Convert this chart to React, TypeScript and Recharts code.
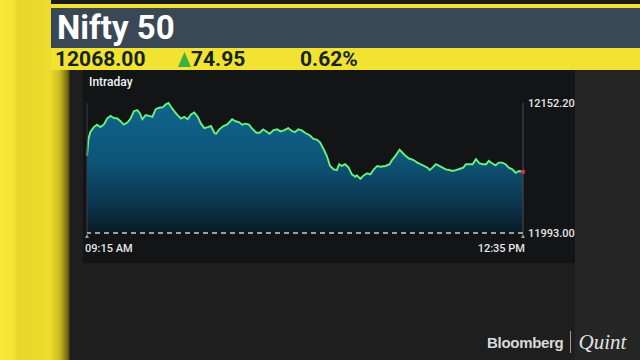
import React from 'react'
import { AreaChart, Area, XAxis, YAxis, ReferenceLine, ReferenceDot } from 'recharts'

// minutes after 09:15 and Nifty 50 level
const minutes = [
  0, 0.7, 1.5, 3.1, 4.6, 6.1, 7.7, 9.2, 10.8, 12.3,
  13.9, 15.4, 16.9, 18.5, 20.0, 21.5, 23.1, 24.3, 25.4, 26.9,
  28.4, 30.0, 31.5, 33.1, 34.9, 36.1, 37.4, 38.5, 40.0, 41.5,
  43.1, 44.6, 46.2, 47.7, 49.2, 50.8, 52.3, 53.8, 55.4, 56.9,
  58.4, 59.2, 60.7, 62.6, 64.2, 65.4, 66.6, 68.1, 69.7, 71.2,
  72.7, 74.3, 75.8, 77.7, 79.2, 80.8, 82.3, 83.8, 85.4, 87.2,
  88.8, 90.3, 92.3, 93.8, 95.4, 96.9, 98.5, 100.0, 102.3, 103.9,
  105.4, 106.9, 108.5, 110.0, 111.5, 113.1, 114.6, 115.7, 116.9, 118.4,
  120.0, 121.5, 123.1, 123.8, 125.4, 126.9, 128.5, 130.0, 131.6, 133.1,
  134.6, 136.9, 138.8, 140.0, 141.5, 143.4, 144.6, 146.1, 147.7, 149.6,
  151.5, 153.1, 154.6, 156.2, 157.2, 158.5, 160.0, 161.6, 163.1, 164.6,
  166.2, 167.7, 169.2, 171.1, 172.6, 173.8, 175.4, 176.9, 178.4, 180.0,
  181.5, 183.1, 184.3, 185.8, 187.4, 188.9, 190.4, 192.0, 193.5, 195.1,
  196.6, 198.2, 200.0,
]

const prices = [
  12087.5, 12108.7, 12116.5, 12122.7, 12125.7, 12122.7, 12125.7, 12133.2, 12136.4, 12133.9,
  12133.2, 12129.8, 12125.7, 12128.2, 12133.2, 12142.2, 12143.5, 12139.4, 12132.3, 12137.3,
  12136.4, 12135.2, 12144.7, 12146.4, 12147.2, 12150.6, 12152.2, 12147.6, 12142.3, 12137.3,
  12133.2, 12135.2, 12132.3, 12138.1, 12140.6, 12135.2, 12126.9, 12121.5, 12122.7, 12124.0,
  12115.8, 12114.5, 12119.9, 12124.0, 12125.7, 12128.9, 12132.3, 12129.8, 12128.9, 12125.7,
  12126.9, 12125.7, 12120.7, 12115.8, 12115.8, 12119.9, 12117.4, 12114.5, 12118.6, 12119.9,
  12117.4, 12118.6, 12121.5, 12118.2, 12116.5, 12119.9, 12118.6, 12115.8, 12112.4, 12108.3,
  12107.4, 12104.1, 12095.9, 12087.5, 12075.1, 12071.0, 12070.1, 12077.2, 12075.1, 12077.2,
  12073.0, 12064.8, 12061.8, 12063.5, 12059.3, 12063.5, 12066.0, 12064.8, 12071.0, 12075.1,
  12074.2, 12075.1, 12077.2, 12082.6, 12087.5, 12095.0, 12091.6, 12087.5, 12084.2, 12082.6,
  12079.2, 12077.2, 12075.1, 12073.0, 12070.1, 12073.0, 12077.2, 12075.1, 12073.0, 12071.0,
  12070.1, 12068.9, 12070.1, 12071.7, 12073.0, 12077.2, 12077.2, 12077.2, 12083.4, 12078.4,
  12077.2, 12077.2, 12081.3, 12078.4, 12075.9, 12079.2, 12079.2, 12077.2, 12073.0, 12071.0,
  12066.8, 12068.9, 12068.0,
]

const PREV_CLOSE = 11993.0
const DAY_HIGH = 12152.2
const LAST = 12068.0
const timeTicks = [0, 200]
const timeLabels = ['09:15 AM', '12:35 PM']
const priceTicks = [PREV_CLOSE, DAY_HIGH]

const data = minutes.map((t, i) => ({ t, price: prices[i] }))

const FONT = 'Roboto, "Noto Sans", sans-serif'

function TimeTick({ x, y, payload, index }: any) {
  const first = index === 0
  return (
    <g>
      <path d={`M${x - 2},${y - 3} L${x + 2},${y - 3} L${x},${y - 7} Z`} fill="#9a9a9a" />
      <text
        x={first ? x - 2 : x + 2}
        y={y + 11}
        textAnchor={first ? 'start' : 'end'}
        fill="#e6e6e6"
        fontSize={11}
        fontFamily={FONT}
        fontWeight={500}
      >
        {timeLabels[timeTicks.indexOf(payload.value)]}
      </text>
    </g>
  )
}

function PriceTick({ x, y, payload }: any) {
  return (
    <text x={x + 1} y={y + 4} textAnchor="start" fill="#e6e6e6" fontSize={11} fontFamily={FONT} fontWeight={500}>
      {payload.value.toFixed(2)}
    </text>
  )
}

export default function App() {
  return (
    <div
      style={{
        position: 'fixed',
        left: 0,
        top: 0,
        width: 640,
        height: 360,
        overflow: 'hidden',
        background: '#1e1e1e',
        fontFamily: FONT,
      }}
    >
      {/* right backdrop */}
      <div style={{ position: 'absolute', left: 575, top: 0, width: 65, height: 360, background: '#252525' }} />
      {/* left yellow column */}
      <div
        style={{
          position: 'absolute',
          left: 0,
          top: 0,
          width: 70,
          height: 360,
          background:
            'linear-gradient(90deg, #f7ea3a 0px, #f3e330 14px, #e8d62a 18px, #eedd2e 50px, #c9b81e 60px, #6b6210 68px, #2a2a1a 70px)',
        }}
      />
      {/* top yellow rule */}
      <div style={{ position: 'absolute', left: 51, top: 0, width: 589, height: 4, background: '#1a1a1a' }} />
      <div style={{ position: 'absolute', left: 51, top: 4, width: 589, height: 4, background: '#f1e132' }} />
      {/* header */}
      <div
        style={{
          position: 'absolute',
          left: 51,
          top: 8,
          width: 589,
          height: 40,
          background: '#3a4856',
          color: '#ffffff',
          fontSize: 33,
          fontWeight: 700,
          lineHeight: '40px',
          paddingLeft: 6,
          boxSizing: 'border-box',
        }}
      >
        Nifty 50
      </div>
      {/* quote strip */}
      <div
        style={{
          position: 'absolute',
          left: 51,
          top: 48,
          width: 589,
          height: 22,
          background: '#f2e232',
          color: '#15241a',
          fontSize: 21,
          fontWeight: 700,
          lineHeight: '22px',
        }}
      >
        <span style={{ position: 'absolute', left: 4 }}>12068.00</span>
        <svg style={{ position: 'absolute', left: 127, top: 4 }} width={13} height={15}>
          <path d="M6.5,0 L13,15 L0,15 Z" fill="#3fae46" />
        </svg>
        <span style={{ position: 'absolute', left: 140 }}>74.95</span>
        <span style={{ position: 'absolute', left: 249 }}>0.62%</span>
      </div>
      {/* chart panel */}
      <div style={{ position: 'absolute', left: 83, top: 70, width: 492, height: 193, background: '#121416' }} />
      <div style={{ position: 'absolute', left: 89, top: 75, color: '#f2f2f2', fontSize: 12, fontWeight: 500 }}>
        Intraday
      </div>
      <div style={{ position: 'absolute', left: 83, top: 90 }}>
        <AreaChart width={500} height={172} data={data} margin={{ top: 13, right: 8, bottom: 6, left: 4 }}>
          <defs>
            <linearGradient id="niftyFill" x1="0" y1="0" x2="0" y2="1">
              <stop offset="0%" stopColor="#10648d" />
              <stop offset="45%" stopColor="#0e5578" />
              <stop offset="80%" stopColor="#0c3249" />
              <stop offset="100%" stopColor="#0a1a24" />
            </linearGradient>
          </defs>
          <XAxis
            dataKey="t"
            type="number"
            domain={[0, 200]}
            ticks={timeTicks}
            axisLine={false}
            tickLine={false}
            height={23}
            tick={<TimeTick />}
            interval={0}
          />
          <YAxis
            orientation="right"
            type="number"
            domain={[PREV_CLOSE, DAY_HIGH]}
            ticks={priceTicks}
            axisLine={false}
            tickLine={false}
            tickSize={2}
            tickMargin={2}
            width={52}
            tick={<PriceTick />}
            interval={0}
          />
          <ReferenceLine x={0} stroke="#3a3f44" strokeWidth={1} />
          <ReferenceLine x={200} stroke="#4a4d50" strokeWidth={1} />
          <Area
            type="linear"
            dataKey="price"
            stroke="#66f27c"
            strokeWidth={1.9}
            fill="url(#niftyFill)"
            fillOpacity={1}
            baseValue={PREV_CLOSE}
            isAnimationActive={false}
            dot={false}
            activeDot={false}
          />
          <ReferenceLine y={PREV_CLOSE} stroke="#c8cdd0" strokeWidth={1.3} strokeDasharray="5 4" />
          <ReferenceDot x={200} y={LAST} r={2.2} fill="#d6304f" stroke="none" />
        </AreaChart>
      </div>
      {/* branding */}
      <div style={{ position: 'absolute', left: 487, top: 330, height: 24, display: 'flex', alignItems: 'center' }}>
        <span
          style={{
            fontFamily: '"Liberation Sans", Arial, sans-serif',
            fontWeight: 700,
            fontSize: 15,
            color: '#dadada',
            letterSpacing: -0.3,
          }}
        >
          Bloomberg
        </span>
        <span style={{ width: 1, height: 22, background: '#9a9a9a', margin: '0 7px' }} />
        <span
          style={{
            fontFamily: '"Liberation Serif", "DejaVu Serif", serif',
            fontStyle: 'italic',
            fontSize: 21,
            color: '#e2e2e2',
          }}
        >
          Quint
        </span>
      </div>
    </div>
  )
}
